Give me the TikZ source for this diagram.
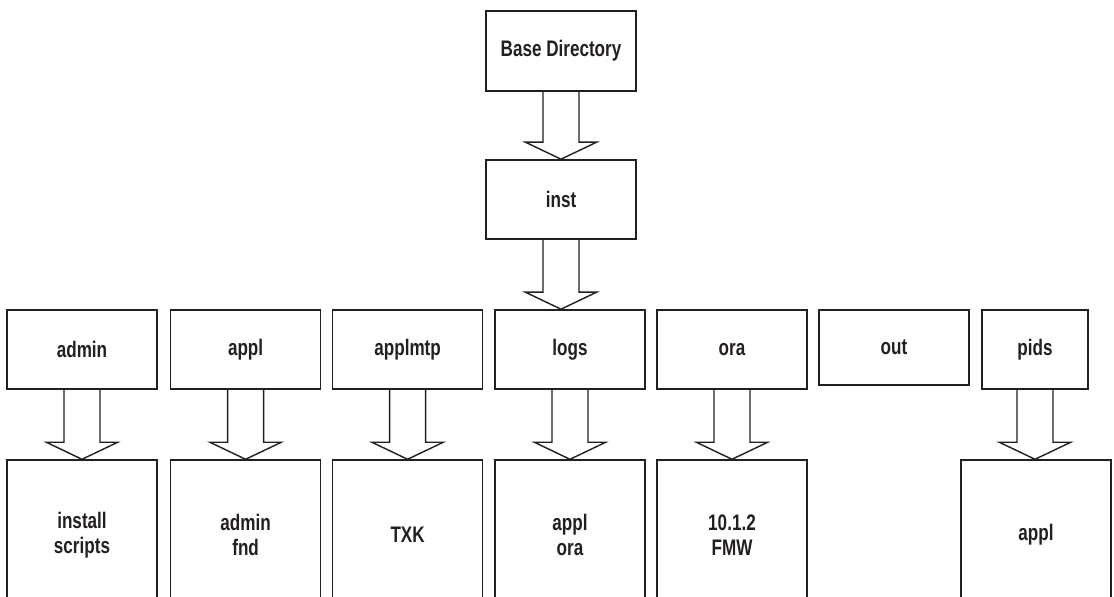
\documentclass[tikz,border=0pt]{standalone}
\usepackage{fontspec}
\setmainfont{Liberation Sans}[FakeStretch=0.76]
\usepackage{tikz}
\usetikzlibrary{calc}
\definecolor{ink}{HTML}{231F20}

% hollow block arrow from the bottom of one box down onto the next
\newcommand{\dirarrow}[2]{%
  \draw[blk] let \p1=(#1.south), \p2=(#2.north) in
    (\x1-0.45cm,\y1) -- (\x1-0.45cm,\y2+0.425cm) -- (\x1-0.89cm,\y2+0.425cm)
    -- (\x1,\y2) -- (\x1+0.89cm,\y2+0.425cm) -- (\x1+0.45cm,\y2+0.425cm)
    -- (\x1+0.45cm,\y1);}

\begin{document}
\begin{tikzpicture}[
  dir/.style={draw=ink,line width=1pt,minimum width=3.75cm,minimum height=1.975cm,
    align=center,text=ink,font=\fontsize{16}{18}\selectfont\bfseries,inner sep=0pt},
  sub/.style={dir,minimum height=3.75cm},
  blk/.style={draw=ink,line width=1pt,line join=miter}]
 \path[use as bounding box,clip] (0,0) rectangle (27.85,14.925);
 % top of the tree
 \node[dir,minimum height=2cm] (base) at (14.025,13.65) {Base Directory};
 \node[dir] (inst) at (14.025,9.94) {inst};
 % directories under inst
 \node[dir] (admin) at (2.05,6.19) {admin};
 \node[dir] (appl) at (6.14,6.19) {appl};
 \node[dir] (applmtp) at (10.19,6.19) {applmtp};
 \node[dir] (logs) at (14.25,6.19) {logs};
 \node[dir] (ora) at (18.3,6.19) {ora};
 \node[dir,minimum height=1.875cm] (out) at (22.35,6.24) {out};
 \node[dir,minimum width=2.65cm] (pids) at (25.875,6.19) {pids};
 % one level further down
 \node[sub] (scripts) at (2.05,1.55) {install\\scripts};
 \node[sub] (fnd) at (6.14,1.55) {admin\\fnd};
 \node[sub] (txk) at (10.19,1.55) {TXK};
 \node[sub] (logsub) at (14.25,1.55) {appl\\ora};
 \node[sub] (fmw) at (18.3,1.55) {10.1.2\\FMW};
 \node[sub] (pidsub) at (25.9,1.55) {appl};
 \dirarrow{base}{inst}
 \dirarrow{inst}{logs}
 \dirarrow{admin}{scripts}
 \dirarrow{appl}{fnd}
 \dirarrow{applmtp}{txk}
 \dirarrow{logs}{logsub}
 \dirarrow{ora}{fmw}
 \dirarrow{pids}{pidsub}
\end{tikzpicture}
\end{document}
